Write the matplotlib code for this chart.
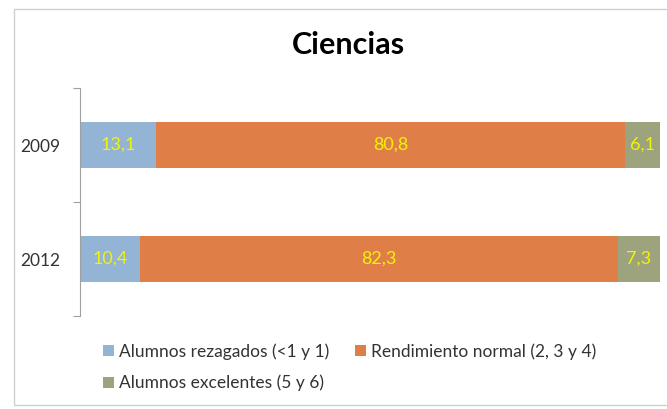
import matplotlib.pyplot as plt
from matplotlib.patches import Rectangle

years = ["2009", "2012"]
rezagados = [13.1, 10.4]
normal = [80.8, 82.3]
excelentes = [6.1, 7.3]
series = [
    ("Alumnos rezagados (<1 y 1)", rezagados, "#93b4d4"),
    ("Rendimiento normal (2, 3 y 4)", normal, "#df7f47"),
    ("Alumnos excelentes (5 y 6)", excelentes, "#9da37c"),
]

plt.rcParams["font.family"] = ["Lato", "DejaVu Sans"]

fig = plt.figure(figsize=(6.67, 4.09), dpi=100)
fig.patches.append(Rectangle((14 / 667, 4 / 409), 1.0, 396 / 409, transform=fig.transFigure,
                             fill=False, edgecolor="#d0d0d0", linewidth=1.0))
ax = fig.add_axes([80 / 667, 1 - 316 / 409, 580 / 667, 228 / 409])

ypos = list(range(len(years)))
left = [0.0] * len(years)
handles = []
for label, vals, color in series:
    bars = ax.barh(ypos, vals, left=left, height=0.4, color=color, label=label)
    handles.append(bars)
    for b, v in zip(bars, vals):
        ax.text(b.get_x() + b.get_width() / 2, b.get_y() + b.get_height() / 2,
                f"{v:.1f}".replace(".", ","), ha="center", va="center",
                color="#f2f20a", fontsize=13)
    left = [l + v for l, v in zip(left, vals)]

ax.set_xlim(0, 100)
ax.set_ylim(1.5, -0.5)
ax.set_yticks([-0.5, 0.5, 1.5])
ax.set_yticklabels([])
ax.set_yticks(ypos, minor=True)
ax.set_yticklabels(years, minor=True, fontsize=12.5, color="#333333")
ax.tick_params(axis="y", which="major", length=5, color="#a0a0a0")
ax.tick_params(axis="y", which="minor", length=0, pad=14)
ax.set_xticks([])
for s in ["top", "right", "bottom"]:
    ax.spines[s].set_visible(False)
ax.spines["left"].set_color("#a0a0a0")

fig.text(348 / 667, 1 - 45 / 409, "Ciencias", ha="center", va="center",
         fontsize=22, fontweight="bold")

# column-major fill: put excelentes under rezagados
order = [0, 2, 1]
ax.legend([handles[i] for i in order], [series[i][0] for i in order],
          loc="upper left", bbox_to_anchor=(100 / 667, 1 - 340 / 409),
          bbox_transform=fig.transFigure, ncol=2, frameon=False, fontsize=12.5,
          handlelength=0.6, handleheight=0.6, handletextpad=0.3,
          columnspacing=1.5, labelspacing=0.85, labelcolor="#333333",
          borderaxespad=0, borderpad=0.2)

fig.savefig("out.png", dpi=100)
